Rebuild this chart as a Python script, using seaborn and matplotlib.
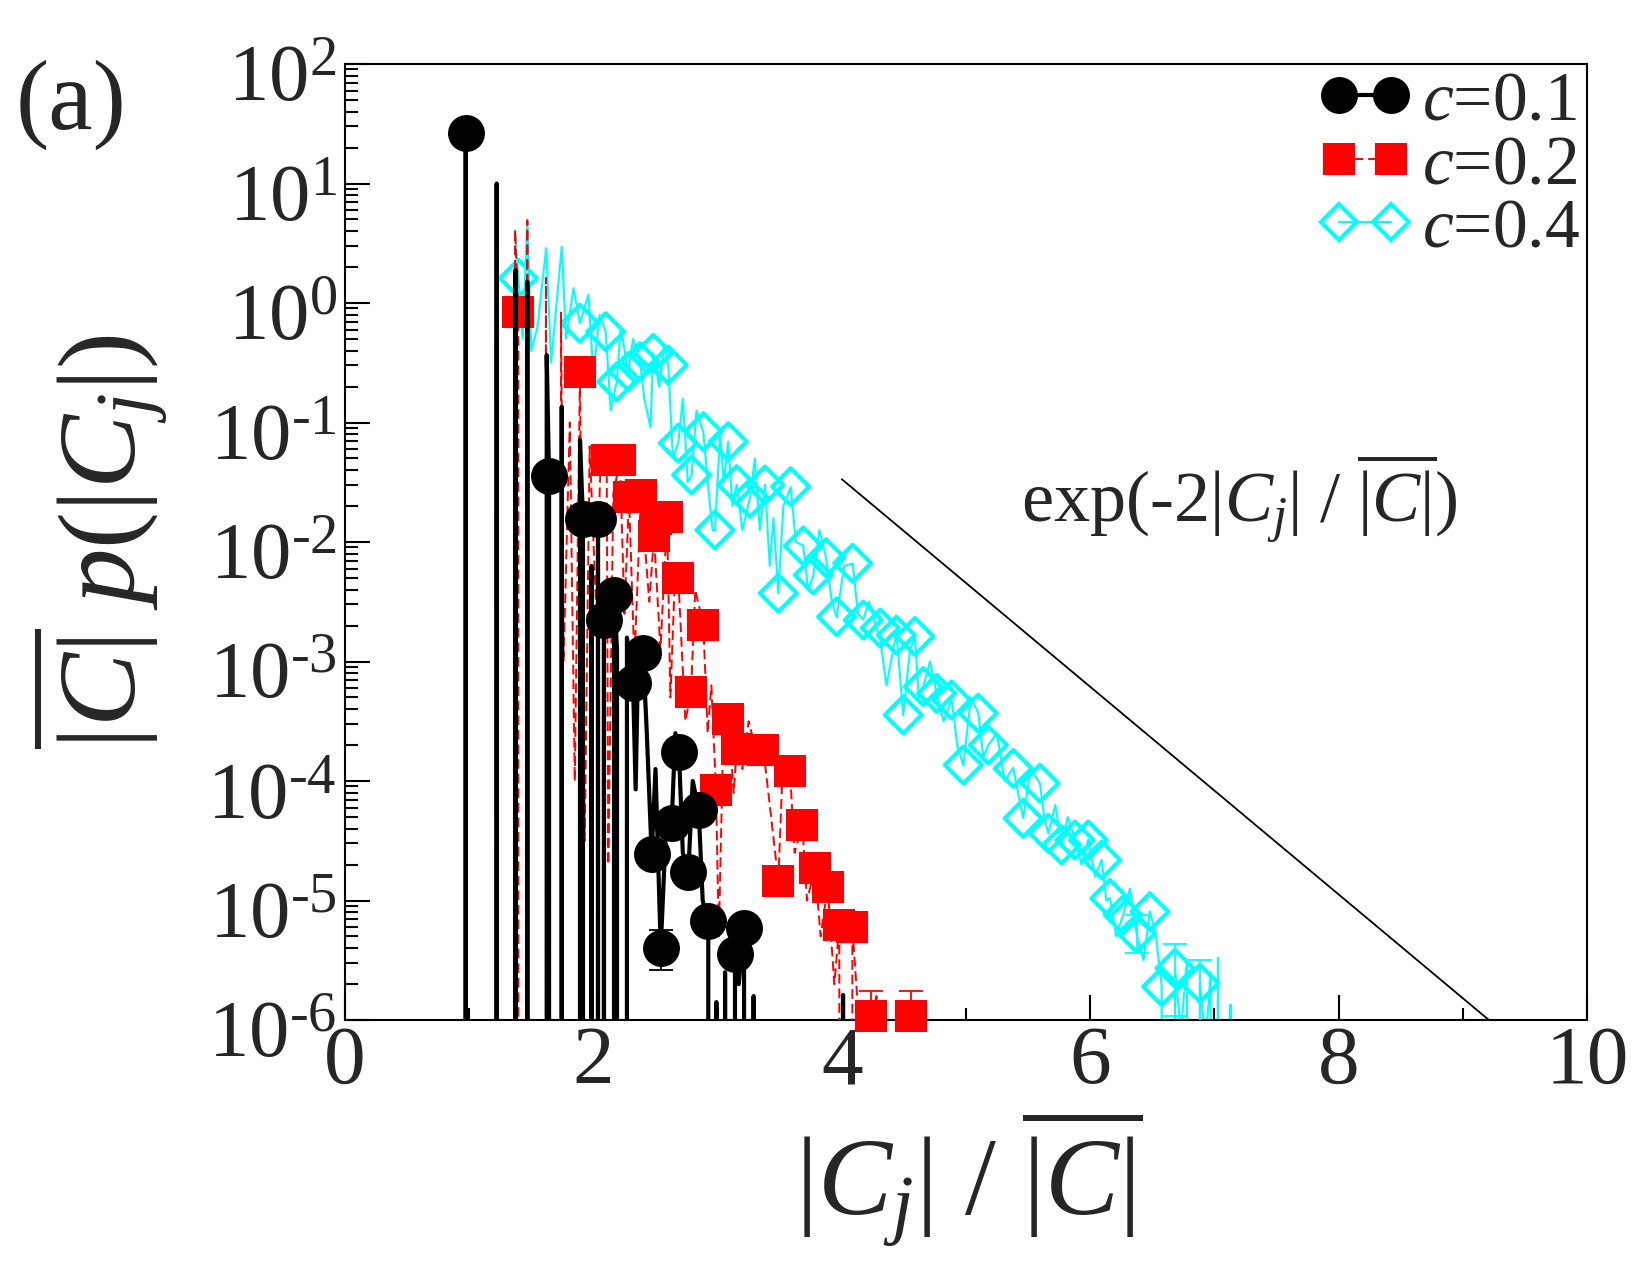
import numpy as np
import matplotlib
matplotlib.use("Agg")
import matplotlib.pyplot as plt
import matplotlib.transforms as mtransforms
import seaborn as sns
from matplotlib.lines import Line2D
from matplotlib.ticker import MultipleLocator, LogLocator, FuncFormatter, NullFormatter

Z = None  # empty bin (zero value)

# ---------------- data (x, log10 y) ----------------
# c = 0.1 : coarse points (filled circles)
c01_points = [(0.972, 1.425), (1.643, -1.448), (1.916, -1.808), (2.037, -1.808),
              (2.085, -2.653), (2.166, -2.444), (2.319, -3.180), (2.400, -2.929),
              (2.469, -4.613), (2.542, -5.395), (2.630, -4.349), (2.689, -3.757),
              (2.764, -4.759), (2.848, -4.243), (2.925, -5.172), (3.140, -5.448),
              (3.213, -5.228)]
# c = 0.1 : fine histogram line
c01_line = [(0.95, Z), (0.972, 1.425), (0.99, Z), (1.20, Z), (1.221, 1.0), (1.24, Z),
            (1.35, Z), (1.373, 0.276), (1.39, Z), (1.45, Z), (1.468, 0.178), (1.49, Z),
            (1.60, Z), (1.624, -0.435), (1.643, -1.448), (1.66, Z), (1.72, Z),
            (1.745, -0.868), (1.76, Z), (1.87, Z), (1.892, -1.146), (1.916, -1.808),
            (1.94, Z), (1.97, Z), (1.985, -2.2), (2.00, Z), (2.037, -1.808), (2.06, Z),
            (2.085, -2.653), (2.10, Z), (2.13, Z), (2.166, -2.444), (2.19, -2.9), (2.21, Z),
            (2.25, Z), (2.27, -2.8), (2.319, -3.18), (2.34, -4.07), (2.36, -3.0),
            (2.40, -2.929), (2.43, -3.6), (2.469, -4.613), (2.50, -3.9), (2.542, -5.395),
            (2.58, -4.5), (2.63, -4.349), (2.66, -3.6), (2.689, -3.757), (2.72, -4.6),
            (2.764, -4.759), (2.80, -4.0), (2.848, -4.243), (2.88, -5.0), (2.925, -5.172),
            (2.96, Z), (2.99, -5.85), (3.02, Z), (3.06, -5.6), (3.09, Z), (3.14, -5.448),
            (3.17, -5.7), (3.213, -5.228), (3.25, Z), (3.29, -5.8), (3.31, Z), (4.00, Z),
            (4.01, -5.79), (4.02, Z)]

# c = 0.2 : coarse points (filled squares)
c02_points = [(1.396, -0.073), (1.892, -0.580), (2.107, -1.314), (2.214, -1.314),
              (2.287, -1.620), (2.383, -1.607), (2.488, -1.950), (2.504, -1.808),
              (2.593, -1.790), (2.684, -2.304), (2.786, -3.258), (2.885, -2.695),
              (2.987, -4.075), (3.086, -3.480), (3.154, -3.730), (3.369, -3.740),
              (3.489, -4.834), (3.583, -3.920), (3.682, -4.370), (3.784, -4.730),
              (3.886, -4.884), (3.980, -5.205), (4.085, -5.220), (4.233, -5.970),
              (4.560, -5.970)]
# c = 0.2 : fine histogram line (dashed)
c02_line = [(1.20, Z), (1.221, 1.0), (1.25, Z), (1.35, Z), (1.369, 0.61), (1.396, -0.073),
            (1.43, Z), (1.45, Z), (1.468, 0.69), (1.50, Z), (1.60, Z), (1.618, 0.21),
            (1.64, Z), (1.72, Z), (1.739, -0.08), (1.76, -3.0), (1.81, -1.0), (1.85, -4.0),
            (1.892, -0.58), (1.90, -1.5), (1.93, -4.5), (1.97, -1.2), (2.02, -2.5),
            (2.06, -1.3), (2.107, -1.314), (2.12, -4.7), (2.16, -1.6), (2.214, -1.314),
            (2.25, -2.6), (2.287, -1.62), (2.33, -3.0), (2.383, -1.607), (2.45, -2.5),
            (2.488, -1.95), (2.54, -2.9), (2.593, -1.79), (2.62, -3.3), (2.66, -2.2),
            (2.684, -2.304), (2.74, -3.5), (2.786, -3.258), (2.82, -2.4), (2.885, -2.695),
            (2.92, -3.6), (2.95, -3.2), (2.987, -4.075), (3.01, -5.3), (3.05, -3.4),
            (3.086, -3.48), (3.13, -4.1), (3.154, -3.73), (3.20, -3.9), (3.25, -3.5),
            (3.31, -3.75), (3.369, -3.74), (3.42, -4.2), (3.489, -4.834), (3.52, -4.0),
            (3.583, -3.92), (3.62, -4.6), (3.682, -4.37), (3.72, -5.0), (3.784, -4.73),
            (3.83, -5.3), (3.886, -4.884), (3.94, -5.7), (3.98, -5.205), (4.03, Z),
            (4.085, -5.22), (4.13, -5.9), (4.17, Z), (4.233, -5.97), (4.28, -5.8),
            (4.33, Z), (4.45, Z), (4.47, -5.85), (4.50, Z), (4.56, -5.97), (4.60, Z)]

# c = 0.4 : coarse points (open diamonds)
c04_points = [(1.396, 0.207), (1.892, -0.170), (2.099, -0.240), (2.188, -0.659),
              (2.281, -0.575), (2.375, -0.490), (2.482, -0.421), (2.603, -0.519),
              (2.684, -1.174), (2.791, -1.439), (2.885, -1.077), (2.979, -1.900),
              (3.086, -1.160), (3.154, -1.520), (3.261, -1.634), (3.382, -1.523),
              (3.489, -2.429), (3.589, -1.537), (3.690, -2.033), (3.771, -2.276),
              (3.873, -2.131), (3.959, -2.625), (4.088, -2.178), (4.173, -2.653),
              (4.310, -2.720), (4.440, -2.780), (4.495, -3.447), (4.589, -2.790),
              (4.656, -3.210), (4.764, -3.266), (4.885, -3.322), (4.979, -3.866),
              (5.099, -3.433), (5.180, -3.699), (5.381, -3.894), (5.461, -4.312),
              (5.596, -4.019), (5.663, -4.438), (5.770, -4.535), (5.878, -4.494),
              (5.985, -4.494), (6.093, -4.661), (6.159, -4.982), (6.266, -5.121),
              (6.374, -5.275), (6.481, -5.094), (6.576, -5.721), (6.683, -5.567),
              (6.884, -5.693)]
# c = 0.4 : fine histogram line
c04_line = [(1.37, 0.61), (1.396, 0.207), (1.43, -0.3), (1.468, 0.70), (1.50, -0.4),
            (1.55, -0.2), (1.62, 0.46), (1.66, -0.5), (1.745, 0.47), (1.78, -0.3),
            (1.84, 0.125), (1.892, -0.17), (1.96, 0.07), (2.00, -0.6), (2.05, -0.1),
            (2.099, -0.24), (2.14, -0.9), (2.188, -0.66), (2.22, -0.2), (2.281, -0.575),
            (2.32, -0.3), (2.375, -0.49), (2.41, -0.8), (2.46, -1.04), (2.482, -0.42),
            (2.53, -0.7), (2.57, -0.35), (2.603, -0.52), (2.64, -1.3), (2.684, -1.17),
            (2.72, -0.8), (2.76, -1.5), (2.791, -1.44), (2.83, -0.9), (2.885, -1.08),
            (2.93, -1.6), (2.96, -1.9), (2.979, -1.9), (3.02, -1.1), (3.05, -1.5),
            (3.086, -1.16), (3.12, -1.7), (3.154, -1.52), (3.20, -1.9), (3.261, -1.63),
            (3.30, -1.3), (3.34, -1.9), (3.382, -1.52), (3.42, -2.2), (3.45, -1.8),
            (3.489, -2.43), (3.53, -1.7), (3.589, -1.54), (3.63, -2.0), (3.69, -2.03),
            (3.73, -2.4), (3.771, -2.28), (3.82, -1.9), (3.873, -2.13), (3.92, -2.5),
            (3.959, -2.63), (4.02, -2.2), (4.088, -2.18), (4.13, -2.6), (4.173, -2.65),
            (4.22, -2.5), (4.31, -2.82), (4.36, -3.2), (4.44, -2.76), (4.495, -3.45),
            (4.55, -2.9), (4.589, -2.79), (4.62, -3.3), (4.656, -3.21), (4.71, -3.0),
            (4.764, -3.27), (4.82, -3.5), (4.885, -3.32), (4.93, -3.7), (4.979, -3.87),
            (5.04, -3.3), (5.099, -3.43), (5.14, -3.8), (5.18, -3.70), (5.25, -3.6),
            (5.31, -4.0), (5.381, -3.89), (5.42, -4.1), (5.461, -4.31), (5.52, -3.9),
            (5.596, -4.02), (5.63, -4.3), (5.663, -4.44), (5.72, -4.2), (5.77, -4.54),
            (5.82, -4.3), (5.878, -4.49), (5.93, -4.7), (5.985, -4.49), (6.04, -4.8),
            (6.093, -4.66), (6.13, -5.0), (6.159, -4.98), (6.21, -5.3), (6.266, -5.12),
            (6.32, -4.9), (6.374, -5.28), (6.43, -5.5), (6.481, -5.09), (6.53, -5.3),
            (6.576, -5.72), (6.61, Z), (6.683, -5.57), (6.73, -6.1), (6.78, -5.5),
            (6.84, Z), (6.884, -5.69), (6.93, -6.2), (6.97, -5.6), (7.00, Z),
            (7.03, -5.48), (7.06, Z), (7.13, -5.87), (7.15, Z)]

# error bars (x, log10 lower, log10 upper)
c01_err = [(2.542, -5.58, -5.25)]
c02_err = [(4.233, -6.30, -5.76), (4.560, -6.30, -5.76)]
c04_err = [(6.374, -5.44, -5.12), (6.683, -5.97, -5.36), (6.884, -6.10, -5.50)]

# reference law exp(-2 x)
ref_amp = 100.0
ref_rate = -2.0
ref_x = [4.0, 9.21]

labels = [r"$c$=0.1", r"$c$=0.2", r"$c$=0.4"]
HY = "\u2010"  # short hyphen as drawn in the original
BLACK, RED, CYAN = "#000000", "#ff0000", "#00ffff"

# ---------------- helpers ----------------
def split(pairs):
    x = np.array([p[0] for p in pairs], dtype=float)
    y = np.array([0.0 if p[1] is None else 10.0 ** p[1] for p in pairs])
    return x, y

def ylab(v, pos):
    e = int(round(np.log10(v)))
    s = (HY + str(-e)) if e < 0 else str(e)
    return r"$\mathregular{10^{%s}}$" % s

# ---------------- style ----------------
sns.set_style("ticks")
plt.rcParams["font.family"] = ["Liberation Serif", "DejaVu Serif"]
plt.rcParams["mathtext.fontset"] = "custom"
plt.rcParams["mathtext.rm"] = "Liberation Serif"
plt.rcParams["mathtext.it"] = "Liberation Serif:italic"
plt.rcParams["mathtext.bf"] = "Liberation Serif:bold"
plt.rcParams["axes.linewidth"] = 1.5

fig = plt.figure(figsize=(16.5, 12.75), dpi=100)
ax = fig.add_axes([0.2091, 0.2, 0.7527, 0.7498])

# fine lines
x4, y4 = split(c04_line)
sns.lineplot(x=x4, y=y4, estimator=None, sort=False, color=CYAN, lw=1.5, ax=ax, zorder=2)
x2, y2 = split(c02_line)
sns.lineplot(x=x2, y=y2, estimator=None, sort=False, color=RED, lw=1.4,
             linestyle=(0, (5, 2.5)), ax=ax, zorder=4)
x1, y1 = split(c01_line)
sns.lineplot(x=x1, y=y1, estimator=None, sort=False, color=BLACK, lw=3.0, ax=ax, zorder=6)

# error bars
for errs, col, z in [(c04_err, CYAN, 3), (c02_err, RED, 5), (c01_err, BLACK, 7)]:
    ex = np.array([e[0] for e in errs])
    lo = np.array([10.0 ** e[1] for e in errs])
    hi = np.array([10.0 ** e[2] for e in errs])
    mid = np.sqrt(lo * hi)
    ax.errorbar(ex, mid, yerr=[mid - lo, hi - mid], fmt="none", ecolor=col,
                elinewidth=1.3, capsize=8.6, capthick=1.3, zorder=z)

# markers
px, py = split(c04_points)
sns.scatterplot(x=px, y=py, marker="D", s=18.8 ** 2, color=CYAN, edgecolor=CYAN,
                linewidth=3.0, ax=ax, zorder=3, clip_on=False)
ax.collections[-1].set_facecolor("none")
px, py = split(c02_points)
sns.scatterplot(x=px, y=py, marker="s", s=23 ** 2, color=RED, edgecolor=RED,
                linewidth=0, ax=ax, zorder=5, clip_on=False)
px, py = split(c01_points)
sns.scatterplot(x=px, y=py, marker="o", s=26.6 ** 2, color=BLACK, edgecolor=BLACK,
                linewidth=0, ax=ax, zorder=7, clip_on=False)

# reference line
rx = np.array(ref_x)
sns.lineplot(x=rx, y=ref_amp * np.exp(ref_rate * rx), color=BLACK, lw=1.3, ax=ax, zorder=8)

# ---------------- axes ----------------
ax.set_yscale("log")
ax.set_xlim(0, 10)
ax.set_ylim(1e-6, 1e2)
ax.xaxis.set_major_locator(MultipleLocator(2))
ax.xaxis.set_minor_locator(MultipleLocator(1))
ax.yaxis.set_major_locator(LogLocator(base=10, numticks=20))
ax.yaxis.set_minor_locator(LogLocator(base=10, subs=np.arange(2, 10), numticks=20))
ax.yaxis.set_minor_formatter(NullFormatter())
ax.yaxis.set_major_formatter(FuncFormatter(ylab))

ax.tick_params(axis="both", which="major", direction="in", length=18, width=1.5,
               top=False, right=False, color="black")
ax.tick_params(axis="both", which="minor", direction="in", length=9, width=1.5,
               top=False, right=False, color="black")
ax.tick_params(axis="x", which="major", labelsize=60, pad=4)
ax.tick_params(axis="y", which="major", labelsize=58, pad=6)
for s in ax.spines.values():
    s.set_color("black")
    s.set_linewidth(1.5)

shift = mtransforms.ScaledTranslation(0, -7 / 72, fig.dpi_scale_trans)
for lab in ax.get_yticklabels():
    lab.set_transform(lab.get_transform() + shift)

ax.set_xlabel(r"$|C_j|\ /\ \overline{|C|}$", fontsize=80)
ax.xaxis.set_label_coords(0.502, -0.091)
ax.set_ylabel(r"$\overline{|C|}\ p(|C_j|)$", fontsize=80)
ax.yaxis.set_label_coords(-0.14, 0.5)

ax.text(0.544, 0.52, r"$\mathrm{exp(" + HY + r"2}|C_j|\ /\ \overline{|C|}\mathrm{)}$",
        transform=ax.transAxes, fontsize=52, ha="left", va="baseline")

fig.text(0.0097, 0.918, "(a)", fontsize=72, ha="left", va="center")

# legend
handles = [
    Line2D([], [], color=BLACK, lw=3.0, marker="o", markersize=26.6, markeredgewidth=0),
    Line2D([], [], color=RED, lw=1.4, linestyle=(0, (5, 2.5)), marker="s", markersize=23,
           markeredgewidth=0),
    Line2D([], [], color=CYAN, lw=1.5, marker="D", markersize=18.8, markerfacecolor="none",
           markeredgewidth=3.0, markeredgecolor=CYAN),
]
ax.legend(handles, labels, loc="upper right", bbox_to_anchor=(1.0, 1.0), frameon=False,
          numpoints=2, fontsize=50, handlelength=1.344, handletextpad=0.15,
          labelspacing=0.0, borderpad=0.1, borderaxespad=0.0)

fig.savefig("out.png", dpi=100)
